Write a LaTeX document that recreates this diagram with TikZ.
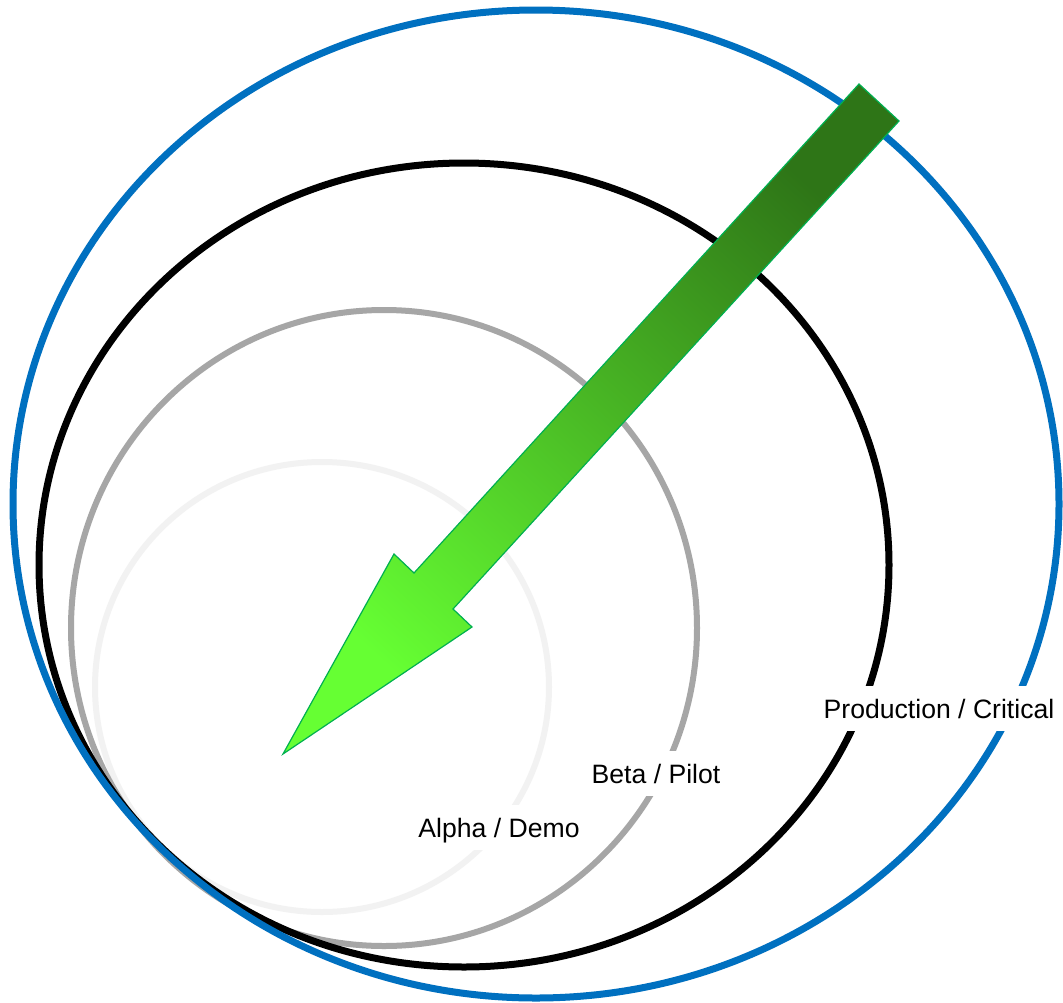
\documentclass[tikz,border=0pt]{standalone}
\usepackage{fontspec}
\setmainfont{Liberation Sans}
\begin{document}
\begin{tikzpicture}[x=1pt,y=-1pt,
  lbl/.style={fill=white, inner xsep=3pt, inner ysep=0pt, anchor=base,
    text height=32pt, text depth=13pt, font=\fontsize{26.6}{31}\selectfont},
]
\definecolor{ringblue}{HTML}{0070C0}
\definecolor{ringgray}{HTML}{A6A6A6}
\definecolor{ringlight}{HTML}{F2F2F2}
\definecolor{arrowdark}{HTML}{2E7517}
\definecolor{arrowbright}{HTML}{66FF33}
\definecolor{arrowline}{HTML}{00B050}
\useasboundingbox (0,0) rectangle (1063,1002);
\fill[white] (0,0) rectangle (1063,1002);

\draw[ringlight, line width=6pt] (322,687) ellipse [x radius=227pt, y radius=225pt];
\draw[ringgray, line width=6pt] (384,628) ellipse [x radius=313pt, y radius=318pt];
\draw[black, line width=7pt] (464,565) ellipse [x radius=425pt, y radius=402pt];
\draw[ringblue, line width=7pt] (536,504) ellipse [x radius=523pt, y radius=494pt];

\node[lbl] (prod) at (939,718) {Production / Critical};
\node[lbl] (beta) at (656,783) {Beta / Pilot};
\node[lbl] (alpha) at (499,837) {Alpha / Demo};

\coordinate (a1) at (859,84);
\coordinate (a2) at (899,121);
\coordinate (a3) at (453,609);
\coordinate (a4) at (472,627);
\coordinate (a5) at (283,754);
\coordinate (a6) at (394,554);
\coordinate (a7) at (414,573);
\draw[arrowline, line width=1.2pt, top color=arrowdark, bottom color=arrowbright, shading angle=-42.4]
  (a1) -- (a2) -- (a3) -- (a4) -- (a5) -- (a6) -- (a7) -- cycle;
\end{tikzpicture}
\end{document}
